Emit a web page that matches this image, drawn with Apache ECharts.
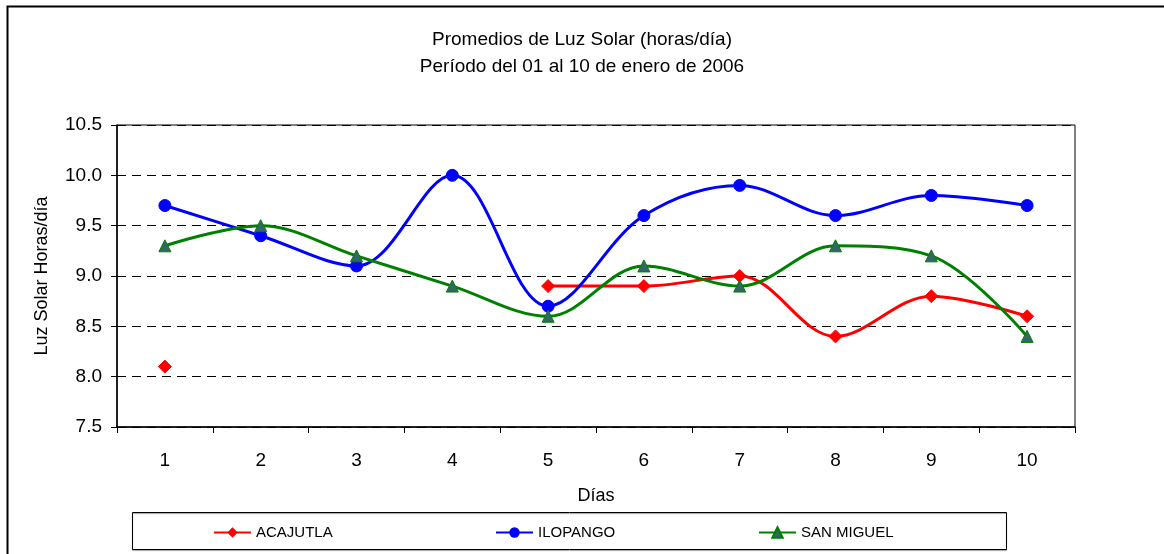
<!DOCTYPE html>
<html>
<head>
<meta charset="utf-8">
<script src="https://cdn.jsdelivr.net/npm/echarts@6/dist/echarts.min.js"></script>
<style>
  html, body { margin: 0; padding: 0; background: #fff; }
  #chart { width: 1164px; height: 554px; }
</style>
</head>
<body>
<div id="chart"></div>
<script>
const days = ['1', '2', '3', '4', '5', '6', '7', '8', '9', '10']
const acajutla = [8.1, null, null, null, 8.9, 8.9, 9.0, 8.4, 8.8, 8.6]
const ilopango = [9.7, 9.4, 9.1, 10.0, 8.7, 9.6, 9.9, 9.6, 9.8, 9.7]
const sanMiguel = [9.3, 9.5, 9.2, 8.9, 8.6, 9.1, 8.9, 9.3, 9.2, 8.4]

const font = '"Liberation Sans", Arial, sans-serif'

const chart = echarts.init(document.getElementById('chart'))

const makeLegend = (name, left) => ({
  data: [name],
  left: left,
  top: 520,
  itemWidth: 37,
  itemHeight: 13,
  itemGap: 4,
  textStyle: { fontFamily: font, fontSize: 15, color: '#000' }
})

chart.setOption({
  animation: false,
  title: {
    text: 'Promedios de Luz Solar (horas/día)\nPeríodo del 01 al 10 de enero de 2006',
    left: 'center',
    top: 21,
    textStyle: { fontFamily: font, fontSize: 19, fontWeight: 'normal', color: '#000', lineHeight: 27 }
  },
  legend: [
    makeLegend('ACAJUTLA', 208),
    makeLegend('ILOPANGO', 490),
    makeLegend('SAN MIGUEL', 753)
  ],
  graphic: [
    {
      type: 'polyline',
      shape: { points: [[7.5, 554], [7.5, 6.5], [1164, 6.5]] },
      style: { stroke: '#000', lineWidth: 2, fill: null }
    },
    {
      type: 'rect',
      shape: { x: 132.5, y: 512.5, width: 874, height: 37 },
      style: { stroke: '#000', lineWidth: 1, fill: null, shadowColor: 'rgba(0,0,0,0.4)', shadowOffsetY: 1, shadowOffsetX: 0, shadowBlur: 1 },
      z: -1
    }
  ],
  grid: {
    left: 117,
    right: 89,
    top: 125,
    bottom: 127,
    show: true,
    borderColor: '#000',
    borderWidth: 1
  },
  xAxis: {
    type: 'category',
    data: days,
    name: 'Días',
    nameLocation: 'middle',
    nameGap: 60,
    nameTextStyle: { fontFamily: font, fontSize: 18, color: '#000' },
    axisLine: { lineStyle: { color: '#000', width: 1.5 } },
    axisTick: { show: true, length: 6, lineStyle: { color: '#000' } },
    axisLabel: { fontFamily: font, fontSize: 19, color: '#000', margin: 24 }
  },
  yAxis: {
    type: 'value',
    min: 7.5,
    max: 10.5,
    interval: 0.5,
    name: 'Luz Solar Horas/día',
    nameLocation: 'middle',
    nameGap: 66,
    nameTextStyle: { fontFamily: font, fontSize: 18, color: '#000' },
    axisLine: { show: true, lineStyle: { color: '#000', width: 1.5 } },
    axisTick: { show: true, length: 6, lineStyle: { color: '#000' } },
    axisLabel: {
      fontFamily: font, fontSize: 19, color: '#000', margin: 15,
      formatter: v => v.toFixed(1)
    },
    splitLine: { show: true, lineStyle: { color: '#000', type: [9, 6], width: 1 } }
  },
  series: [
    {
      name: 'ACAJUTLA',
      type: 'line',
      data: acajutla,
      smooth: 0.35,
      symbol: 'diamond',
      symbolSize: 13,
      showAllSymbol: true,
      lineStyle: { color: '#ff0000', width: 3 },
      itemStyle: { color: '#ff0000', borderColor: '#ff0000' }
    },
    {
      name: 'ILOPANGO',
      type: 'line',
      data: ilopango,
      smooth: 0.35,
      symbol: 'circle',
      symbolSize: 12,
      lineStyle: { color: '#0000ff', width: 3 },
      itemStyle: { color: '#0000ff', borderColor: '#0000ff' }
    },
    {
      name: 'SAN MIGUEL',
      type: 'line',
      data: sanMiguel,
      smooth: 0.35,
      symbol: 'triangle',
      symbolSize: 12,
      lineStyle: { color: '#008000', width: 3 },
      itemStyle: { color: '#336666', borderColor: '#008000', borderWidth: 1 }
    }
  ]
})
</script>
</body>
</html>
